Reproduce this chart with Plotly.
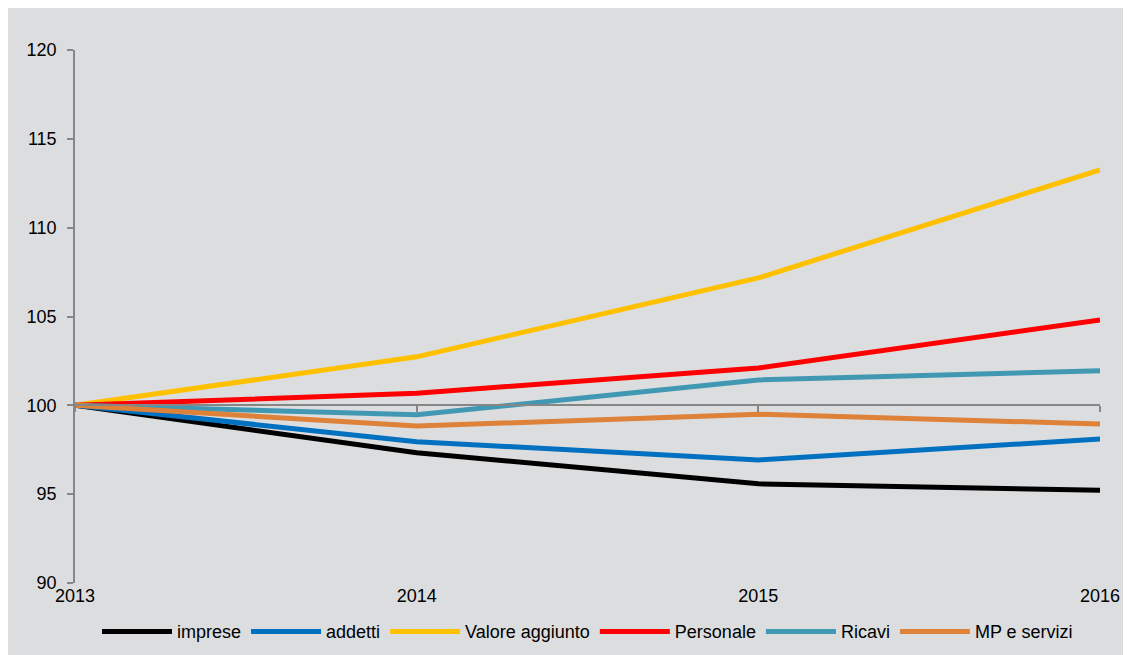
import plotly.graph_objects as go

years = [2013, 2014, 2015, 2016]
imprese = [100, 97.33, 95.58, 95.22]
addetti = [100, 97.95, 96.93, 98.1]
valore_aggiunto = [100, 102.73, 107.17, 113.25]
personale = [100, 100.68, 102.1, 104.8]
ricavi = [100, 99.47, 101.43, 101.94]
mp_servizi = [100, 98.83, 99.5, 98.95]

series = [
    ("imprese", imprese, "#000000"),
    ("addetti", addetti, "#0070C0"),
    ("Valore aggiunto", valore_aggiunto, "#FFC000"),
    ("Personale", personale, "#FF0000"),
    ("Ricavi", ricavi, "#4198B3"),
    ("MP e servizi", mp_servizi, "#DE8139"),
]

# page body adds an 8px margin, so the figure is a bit smaller than the window
W, H = 1123, 647
L, R, T, B = 67, 31, 42, 72
bg = "#DCDDDF"
axis_col = "#868686"
font = dict(family="Liberation Sans, Arial, sans-serif", size=18, color="#000000")

fig = go.Figure()
for name, vals, col in series:
    fig.add_trace(go.Scatter(x=years, y=vals, name=name, mode="lines",
                             line=dict(color=col, width=5)))

# dummy trace so the axis line at 100 gets drawn
fig.add_trace(go.Scatter(x=years, y=imprese, xaxis="x2", mode="lines",
                         line=dict(width=0), showlegend=False, hoverinfo="skip"))

fig.update_layout(
    width=W, height=H,
    margin=dict(l=L, r=R, t=T, b=B, autoexpand=False),
    paper_bgcolor=bg, plot_bgcolor=bg,
    font=font,
    showlegend=True,
    legend=dict(orientation="h", x=0.5, xanchor="center", yref="container",
                y=0.036, yanchor="middle",
                font=font, bgcolor="rgba(0,0,0,0)", itemwidth=70),
    xaxis=dict(range=[2013, 2016], tickvals=years, ticktext=[str(y) for y in years],
               showline=False, showgrid=False, zeroline=False, ticks="", tickfont=font),
    xaxis2=dict(range=[2013, 2016], overlaying="x", anchor="free", position=1 / 3,
                showline=True, linecolor=axis_col, linewidth=1.5, ticks="outside",
                tickcolor=axis_col, ticklen=6, tickwidth=1.5, tickvals=years,
                showticklabels=False, showgrid=False, zeroline=False),
    yaxis=dict(range=[90, 120], tickvals=[90, 95, 100, 105, 110, 115, 120],
               showline=True, linecolor=axis_col, linewidth=1.5, ticks="outside",
               tickcolor=axis_col, ticklen=6, tickwidth=1.5, showgrid=False,
               zeroline=False, tickfont=font, ticklabelstandoff=7),
)

fig.write_html("out.html")
